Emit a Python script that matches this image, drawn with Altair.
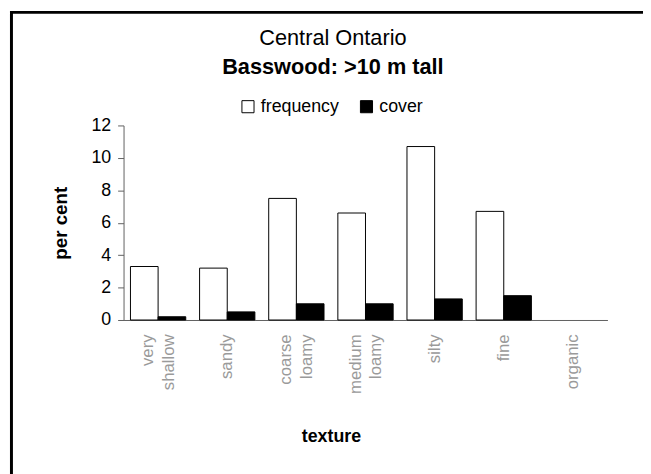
import altair as alt
import pandas as pd

textures = ["very shallow", "sandy", "coarse loamy", "medium loamy", "silty", "fine", "organic"]
frequency = [3.3, 3.2, 7.5, 6.6, 10.7, 6.7, 0.0]
cover = [0.2, 0.5, 1.0, 1.0, 1.3, 1.5, 0.0]
series = ["frequency", "cover"]
y_ticks = [0, 2, 4, 6, 8, 10, 12]

rows = []
for t, f, c in zip(textures, frequency, cover):
    rows.append({"texture": t, "measure": "frequency", "value": f})
    rows.append({"texture": t, "measure": "cover", "value": c})
df = pd.DataFrame(rows)

FONT = "Liberation Sans"
W, H = 490, 197

bars = alt.Chart(df).mark_bar(stroke="black", strokeWidth=1).encode(
    x=alt.X("texture:N", sort=textures,
            scale=alt.Scale(paddingInner=0.2, paddingOuter=0.1),
            axis=alt.Axis(title="texture", labelAngle=270,
                          labelExpr="split(datum.label, ' ')",
                          labelFontSize=17, labelPadding=14, labelLineHeight=21,
                          labelOffset=alt.condition("indexof(datum.value, ' ') >= 0",
                                                    alt.value(-10), alt.value(0)),
                          ticks=False, domainColor="#606060",
                          titleFontSize=18, titleFontWeight="bold",
                          titleX=210, titleY=118, titleBaseline="middle",
                          titleAlign="center")),
    xOffset=alt.XOffset("measure:N", sort=series),
    y=alt.Y("value:Q", scale=alt.Scale(domain=[0, 12], nice=False),
            axis=alt.Axis(title="per cent", values=y_ticks, grid=False,
                          labelFontSize=18, tickSize=6, tickColor="#606060",
                          domainColor="#606060", labelPadding=7,
                          titleFontSize=19, titleFontWeight="bold", titlePadding=21)),
    fill=alt.Fill("measure:N", sort=series,
                  scale=alt.Scale(domain=series, range=["white", "black"]),
                  legend=alt.Legend(title=None, orient="none", direction="horizontal",
                                    legendX=117, legendY=-28,
                                    symbolType="square", symbolSize=150,
                                    symbolStrokeColor="black", symbolStrokeWidth=1,
                                    labelFontSize=18, columnPadding=18, labelOffset=4)),
    strokeOpacity=alt.condition("datum.value > 0", alt.value(1), alt.value(0)),
)

frame = alt.Chart(pd.DataFrame({"a": [0]})).mark_rect(
    fill=None, stroke="black", strokeWidth=3
).encode(x=alt.value(-113.5), x2=alt.value(540), y=alt.value(-114.5), y2=alt.value(360))

chart = alt.layer(frame, bars).properties(
    width=W, height=H,
    autosize=alt.AutoSizeParams(type="none"),
    padding={"left": 117, "top": 116, "right": 36, "bottom": 153},
    title=alt.Title("Central Ontario", subtitle="Basswood: >10 m tall",
                    fontSize=22, fontWeight="normal", subtitleFontSize=22,
                    subtitleFontWeight="bold", subtitleColor="black",
                    anchor="middle", offset=-69, subtitlePadding=7, dx=-33),
).configure(font=FONT).configure_view(stroke=None).configure_axis(
    labelFont=FONT, titleFont=FONT, labelColor="black", titleColor="black"
).configure_axisX(labelColor="#9a9a9a")

chart.save("out.html", embed_options={"renderer": "svg", "actions": False})
